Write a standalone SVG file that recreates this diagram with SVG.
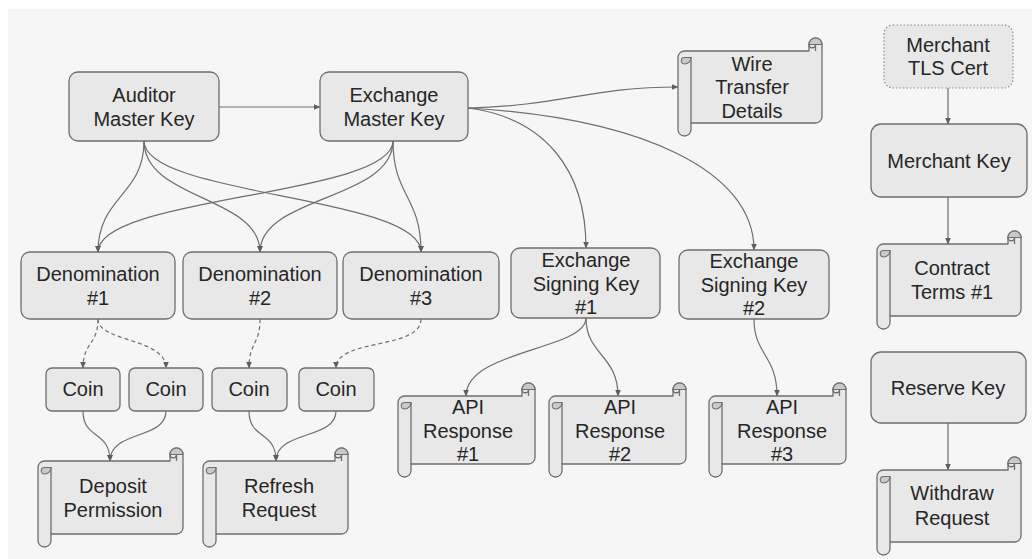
<svg xmlns="http://www.w3.org/2000/svg" xmlns:xlink="http://www.w3.org/1999/xlink" width="1032" height="559" viewBox="0 0 1032 559">
  <style>
    .box { fill: #e8e8e8; stroke: #6e6e6e; stroke-width: 1.3; }
    .dotted { fill: #e8e8e8; stroke: #8a8a8a; stroke-width: 1.2; stroke-dasharray: 1.5 2; }
    .sc-body { fill: #e8e8e8; stroke: #6e6e6e; stroke-width: 1.3; stroke-linejoin: round; }
    .sc-line { fill: none; stroke: #6e6e6e; stroke-width: 1.3; }
    .sc-curl { fill: #c9c9c9; stroke: #6e6e6e; stroke-width: 1.1; }
    .lbl { font-family: "Liberation Sans", Arial, sans-serif; font-size: 20px; fill: #262626; text-anchor: middle; }
    .edge { fill: none; stroke: #6e6e6e; stroke-width: 1.2; marker-end: url(#arrow); }
    .dash { stroke-dasharray: 4 3; }
  </style>
  <defs>
    <marker id="arrow" markerUnits="userSpaceOnUse" markerWidth="7" markerHeight="6" refX="6.5" refY="3" orient="auto">
      <path d="M0,0 L7,3 L0,6 Z" fill="#5e5e5e"/>
    </marker>
    <!-- scroll 137 x 94 -->
    <g id="scroll-a">
      <path class="sc-body" d="M0,19.5 A6.5,6.5 0 0 1 6.5,13 L124,13 L124,6.5 A6.5,6.5 0 0 1 137,6.5 L137,74.5 A6.5,6.5 0 0 1 130.5,81 L13,81 L13,87.5 A6.5,6.5 0 0 1 0,87.5 Z"/>
      <path class="sc-curl" d="M124,6.5 A6.5,6.5 0 0 1 137,6.5 Z"/>
      <path class="sc-line" d="M13,19.5 L13,81 M130.5,13 L130.5,6.5 A3.25,3.25 0 0 1 124,6.5"/>
      <path class="sc-curl" d="M13,19.5 A6.5,6.5 0 0 1 6.5,26 A3.25,3.25 0 0 1 6.5,19.5 Z"/>
    </g>
    <!-- scroll 144 x 98 -->
    <g id="scroll-b">
      <path class="sc-body" d="M0,19.5 A6.5,6.5 0 0 1 6.5,13 L131,13 L131,6.5 A6.5,6.5 0 0 1 144,6.5 L144,78.5 A6.5,6.5 0 0 1 137.5,85 L13,85 L13,91.5 A6.5,6.5 0 0 1 0,91.5 Z"/>
      <path class="sc-curl" d="M131,6.5 A6.5,6.5 0 0 1 144,6.5 Z"/>
      <path class="sc-line" d="M13,19.5 L13,85 M137.5,13 L137.5,6.5 A3.25,3.25 0 0 1 131,6.5"/>
      <path class="sc-curl" d="M13,19.5 A6.5,6.5 0 0 1 6.5,26 A3.25,3.25 0 0 1 6.5,19.5 Z"/>
    </g>
    <!-- scroll 145 x 99 -->
    <g id="scroll-c">
      <path class="sc-body" d="M0,19.5 A6.5,6.5 0 0 1 6.5,13 L132,13 L132,6.5 A6.5,6.5 0 0 1 145,6.5 L145,79.5 A6.5,6.5 0 0 1 138.5,86 L13,86 L13,92.5 A6.5,6.5 0 0 1 0,92.5 Z"/>
      <path class="sc-curl" d="M132,6.5 A6.5,6.5 0 0 1 145,6.5 Z"/>
      <path class="sc-line" d="M13,19.5 L13,86 M138.5,13 L138.5,6.5 A3.25,3.25 0 0 1 132,6.5"/>
      <path class="sc-curl" d="M13,19.5 A6.5,6.5 0 0 1 6.5,26 A3.25,3.25 0 0 1 6.5,19.5 Z"/>
    </g>
  </defs>

  <!-- canvas -->
  <rect x="0" y="0" width="1032" height="559" fill="#ffffff"/>
  <rect x="8" y="9" width="1024" height="550" fill="#f6f6f6"/>

  <!-- connectors -->
  <g id="connectors">
    <path class="edge" d="M219,107 L320,107"/>
    <path class="edge" d="M468,108 C560,106 590,87 678,87"/>
    <path class="edge" d="M468,108 C545,118 586,170 586,248"/>
    <path class="edge" d="M468,108 C640,118 754,170 754,250"/>

    <path class="edge" d="M144,141 C144,196 98,196 98,252"/>
    <path class="edge" d="M144,141 C144,200 260,196 260,252"/>
    <path class="edge" d="M144,141 C144,196 421,196 421,252"/>
    <path class="edge" d="M393,141 C393,196 98,196 98,252"/>
    <path class="edge" d="M393,141 C393,200 260,196 260,252"/>
    <path class="edge" d="M393,141 C393,196 421,196 421,252"/>

    <path class="edge dash" d="M98,319 C98,345 83,342 83,368"/>
    <path class="edge dash" d="M98,319 C98,342 166,338 166,368"/>
    <path class="edge dash" d="M260,319 C260,345 249,342 249,368"/>
    <path class="edge dash" d="M421,319 C421,350 336,338 336,368"/>

    <path class="edge" d="M83,411 C83,440 110,430 110,461"/>
    <path class="edge" d="M166,411 C166,440 110,430 110,461"/>
    <path class="edge" d="M249,411 C249,440 276,430 276,461"/>
    <path class="edge" d="M336,411 C336,440 276,430 276,461"/>

    <path class="edge" d="M586,318 C586,350 466,350 466,396"/>
    <path class="edge" d="M586,318 C586,355 618,355 618,396"/>
    <path class="edge" d="M754,319 C754,355 777,355 777,396"/>

    <path class="edge" d="M948,88 L948,124"/>
    <path class="edge" d="M948,197 L948,244"/>
    <path class="edge" d="M948,423 L948,470"/>
  </g>

  <!-- key nodes -->
  <g id="auditor-master-key">
    <rect class="box" x="69" y="72" width="150" height="69" rx="9"/>
    <text class="lbl" x="144" y="102">Auditor</text>
    <text class="lbl" x="144" y="126">Master Key</text>
  </g>
  <g id="exchange-master-key">
    <rect class="box" x="320" y="72" width="148" height="69" rx="9"/>
    <text class="lbl" x="394" y="102">Exchange</text>
    <text class="lbl" x="394" y="126">Master Key</text>
  </g>
  <g id="wire-transfer-details">
    <use xlink:href="#scroll-b" href="#scroll-b" transform="translate(678,38)"/>
    <text class="lbl" x="752" y="71">Wire</text>
    <text class="lbl" x="752" y="94">Transfer</text>
    <text class="lbl" x="752" y="118">Details</text>
  </g>
  <g id="merchant-tls-cert">
    <rect class="dotted" x="884" y="25" width="129" height="63" rx="9"/>
    <text class="lbl" x="948" y="52">Merchant</text>
    <text class="lbl" x="948" y="75">TLS Cert</text>
  </g>
  <g id="merchant-key">
    <rect class="box" x="871" y="124" width="156" height="73" rx="10"/>
    <text class="lbl" x="949" y="168">Merchant Key</text>
  </g>
  <g id="contract-terms-1">
    <use xlink:href="#scroll-b" href="#scroll-b" transform="translate(877,231)"/>
    <text class="lbl" x="952" y="275">Contract</text>
    <text class="lbl" x="952" y="299">Terms #1</text>
  </g>
  <g id="reserve-key">
    <rect class="box" x="871" y="352" width="155" height="71" rx="10"/>
    <text class="lbl" x="948" y="395">Reserve Key</text>
  </g>
  <g id="withdraw-request">
    <use xlink:href="#scroll-b" href="#scroll-b" transform="translate(877,457)"/>
    <text class="lbl" x="952" y="500">Withdraw</text>
    <text class="lbl" x="952" y="525">Request</text>
  </g>

  <!-- denominations -->
  <g id="denomination-1">
    <rect class="box" x="21" y="252" width="154" height="67" rx="9"/>
    <text class="lbl" x="98" y="281">Denomination</text>
    <text class="lbl" x="98" y="305">#1</text>
  </g>
  <g id="denomination-2">
    <rect class="box" x="183" y="252" width="154" height="67" rx="9"/>
    <text class="lbl" x="260" y="281">Denomination</text>
    <text class="lbl" x="260" y="305">#2</text>
  </g>
  <g id="denomination-3">
    <rect class="box" x="343" y="252" width="156" height="67" rx="9"/>
    <text class="lbl" x="421" y="281">Denomination</text>
    <text class="lbl" x="421" y="305">#3</text>
  </g>

  <!-- signing keys -->
  <g id="exchange-signing-key-1">
    <rect class="box" x="511" y="248" width="149" height="70" rx="9"/>
    <text class="lbl" x="586" y="267">Exchange</text>
    <text class="lbl" x="586" y="291">Signing Key</text>
    <text class="lbl" x="586" y="314">#1</text>
  </g>
  <g id="exchange-signing-key-2">
    <rect class="box" x="679" y="250" width="150" height="69" rx="9"/>
    <text class="lbl" x="754" y="268">Exchange</text>
    <text class="lbl" x="754" y="292">Signing Key</text>
    <text class="lbl" x="754" y="315">#2</text>
  </g>

  <!-- coins -->
  <g id="coin-1">
    <rect class="box" x="46" y="368" width="74" height="43" rx="6"/>
    <text class="lbl" x="83" y="396">Coin</text>
  </g>
  <g id="coin-2">
    <rect class="box" x="129" y="368" width="74" height="43" rx="6"/>
    <text class="lbl" x="166" y="396">Coin</text>
  </g>
  <g id="coin-3">
    <rect class="box" x="212" y="368" width="75" height="43" rx="6"/>
    <text class="lbl" x="249" y="396">Coin</text>
  </g>
  <g id="coin-4">
    <rect class="box" x="299" y="368" width="75" height="43" rx="6"/>
    <text class="lbl" x="336" y="396">Coin</text>
  </g>

  <!-- signed documents -->
  <g id="deposit-permission">
    <use xlink:href="#scroll-c" href="#scroll-c" transform="translate(38,448)"/>
    <text class="lbl" x="113" y="493">Deposit</text>
    <text class="lbl" x="113" y="517">Permission</text>
  </g>
  <g id="refresh-request">
    <use xlink:href="#scroll-c" href="#scroll-c" transform="translate(203,448)"/>
    <text class="lbl" x="279" y="493">Refresh</text>
    <text class="lbl" x="279" y="517">Request</text>
  </g>
  <g id="api-response-1">
    <use xlink:href="#scroll-a" href="#scroll-a" transform="translate(398,383)"/>
    <text class="lbl" x="468" y="414">API</text>
    <text class="lbl" x="468" y="438">Response</text>
    <text class="lbl" x="468" y="461">#1</text>
  </g>
  <g id="api-response-2">
    <use xlink:href="#scroll-a" href="#scroll-a" transform="translate(549,383)"/>
    <text class="lbl" x="620" y="414">API</text>
    <text class="lbl" x="620" y="438">Response</text>
    <text class="lbl" x="620" y="461">#2</text>
  </g>
  <g id="api-response-3">
    <use xlink:href="#scroll-a" href="#scroll-a" transform="translate(709,383)"/>
    <text class="lbl" x="782" y="414">API</text>
    <text class="lbl" x="782" y="438">Response</text>
    <text class="lbl" x="782" y="461">#3</text>
  </g>
</svg>
